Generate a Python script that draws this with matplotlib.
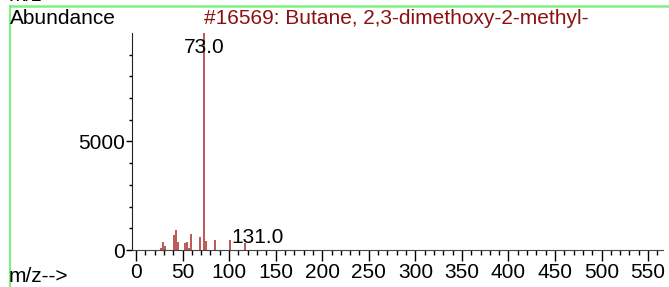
import matplotlib.pyplot as plt
from matplotlib.ticker import MultipleLocator
from matplotlib.lines import Line2D

plt.rcParams['font.family'] = ['Liberation Sans', 'DejaVu Sans']

# espectro
mz = [27, 29, 31, 41, 43, 45, 53, 55, 57, 59, 69, 73, 75, 85, 101, 117, 131]
abundancia = [80, 390, 200, 670, 900, 390, 310, 390, 80, 730, 620, 9999, 430, 460, 450, 310, 20]

titulo = '#16569: Butane, 2,3-dimethoxy-2-methyl-'
etiquetas_pico = [(73, '73.0'), (131, '131.0')]
x_ticks = list(range(0, 551, 50))
y_ticks = [0, 5000]

fs = 15

fig = plt.figure(figsize=(6.69, 2.87), dpi=100)
ax = fig.add_axes([132/669, 1 - 250/287, (663 - 132)/669, (250 - 33)/287])

# picos
ax.vlines(mz, 0, abundancia, color='#b84a4a', linewidth=1.3)

ax.set_xlim(-4.3, 566)
ax.set_ylim(0, 9999)
ax.set_xticks(x_ticks)
ax.set_yticks(y_ticks)
ax.xaxis.set_minor_locator(MultipleLocator(10))
ax.yaxis.set_minor_locator(MultipleLocator(1000))
ax.tick_params(axis='x', which='major', length=8, width=1, labelsize=fs, pad=1.5)
ax.tick_params(axis='x', which='minor', length=3.5, width=1)
ax.tick_params(axis='y', which='major', length=4, width=1, labelsize=fs, pad=1)
ax.tick_params(axis='y', which='minor', length=2.5, width=1)
for lado in ['top', 'right']:
    ax.spines[lado].set_visible(False)
ax.spines['left'].set_color('#222222')
ax.spines['bottom'].set_color('#444444')

# etiquetas de picos
for x, texto in etiquetas_pico:
    y = abundancia[mz.index(x)]
    if y > 9000:
        ax.annotate(texto, (x, y), xytext=(0, -3.5), textcoords='offset points',
                    ha='center', va='top', fontsize=fs)
    else:
        ax.annotate(texto, (x, y), xytext=(0, 1.5), textcoords='offset points',
                    ha='center', va='bottom', fontsize=fs)

# textos de la figura
fig.text(10/669, 1 - 18/287, 'Abundance', ha='left', va='center', fontsize=fs)
fig.text(396/669, 1 - 18/287, titulo, ha='center', va='center', fontsize=fs, color='#8b1010')
fig.text(9/669, 1 - 277/287, 'm/z-->', ha='left', va='center', fontsize=fs)
fig.text(9/669, 1 + 4/287, 'm/z-->', ha='left', va='center', fontsize=fs)

# marco verde
verde = '#7ef07e'
fig.add_artist(Line2D([10/669, 1], [1 - 6/287, 1 - 6/287], color=verde, linewidth=1.8, transform=fig.transFigure))
fig.add_artist(Line2D([10/669, 10/669], [0, 1 - 6/287], color=verde, linewidth=1.5, transform=fig.transFigure))

fig.savefig('out.png', dpi=100)
